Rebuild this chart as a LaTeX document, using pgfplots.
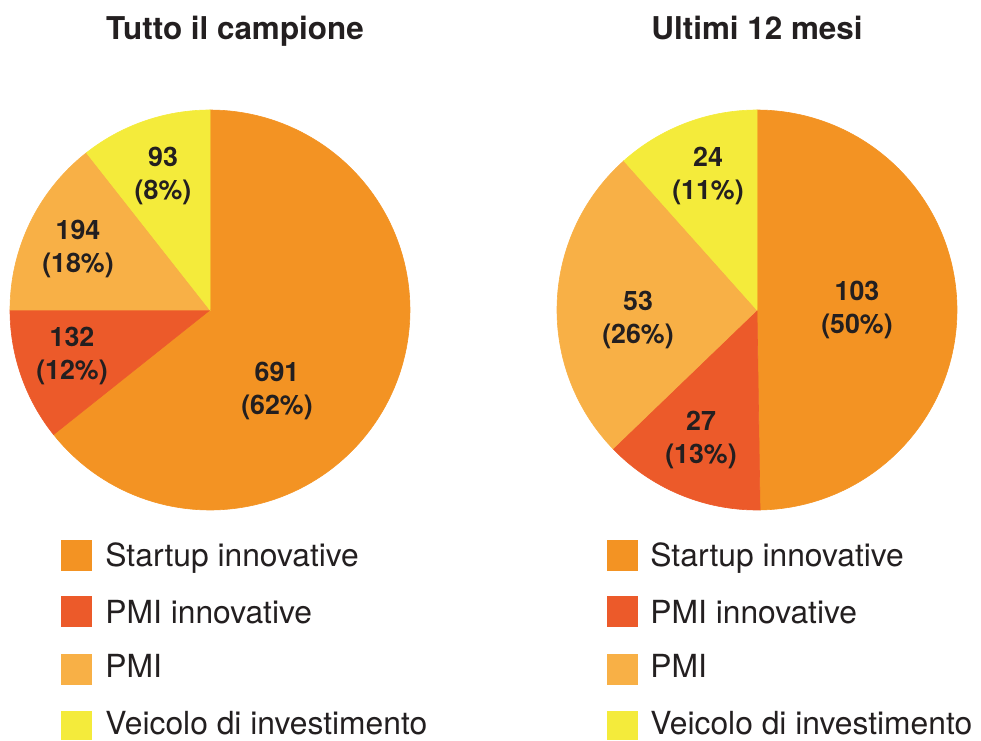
\documentclass[border=0pt]{standalone}
\usepackage{pgfplots}
\pgfplotsset{compat=1.18}
\usepackage{fontspec}
\setmainfont{TeX Gyre Heros}
\definecolor{cStart}{HTML}{F39323}
\definecolor{cPMIinn}{HTML}{EC5A2A}
\definecolor{cPMI}{HTML}{F8B046}
\definecolor{cVeic}{HTML}{F4EB3B}
\definecolor{txt}{HTML}{231F20}
% left pie: shares (%) as drawn in the reference picture
\def\La{64.3}\def\Lb{10.7}\def\Lc{14.4}\def\Ld{10.6}
% right pie: counts
\def\Ra{103}\def\Rb{27}\def\Rc{53}\def\Rd{24}
\pgfmathsetmacro\Ltot{\La+\Lb+\Lc+\Ld}
\pgfmathsetmacro\Rtot{\Ra+\Rb+\Rc+\Rd}
\pgfmathsetmacro\LAa{90-360*(\La/\Ltot)}
\pgfmathsetmacro\LAb{90-360*((\La+\Lb)/\Ltot)}
\pgfmathsetmacro\LAc{90-360*((\La+\Lb+\Lc)/\Ltot)}
\pgfmathsetmacro\RAa{90-360*(\Ra/\Rtot)}
\pgfmathsetmacro\RAb{90-360*((\Ra+\Rb)/\Rtot)}
\pgfmathsetmacro\RAc{90-360*((\Ra+\Rb+\Rc)/\Rtot)}
\newcommand\slice[5]{%
  \addplot[fill=#1, draw=#1, line width=0.3pt, domain=#4:#5, samples=120, variable=\t]
    ({#2+200*cos(\t)},{#3+200*sin(\t)}) -- (axis cs:#2,#3) -- cycle;}
\newcommand\lab[3]{\node[anchor=center, align=center, text=txt, inner sep=0pt,
  font=\fontsize{13.4}{16.5}\selectfont\bfseries] at (axis cs:#1,#2) {#3};}
\newcommand\legtext[3]{\node[anchor=base west, text=txt, inner sep=0pt,
  font=\fontsize{15.9}{18}\selectfont] at (axis cs:#1,#2) {#3};}
\begin{document}
\begin{tikzpicture}
\begin{axis}[
  width=490.5pt, height=370pt, scale only axis,
  xmin=0, xmax=981, ymin=-740, ymax=0,
  hide axis, clip=false,
]
% left pie
\slice{cStart}{210}{-310}{\LAa}{90}
\slice{cPMIinn}{210}{-310}{\LAb}{\LAa}
\slice{cPMI}{210}{-310}{\LAc}{\LAb}
\slice{cVeic}{210}{-310}{-270}{\LAc}
% right pie
\slice{cStart}{757}{-310}{\RAa}{90}
\slice{cPMIinn}{757}{-310}{\RAb}{\RAa}
\slice{cPMI}{757}{-310}{\RAc}{\RAb}
\slice{cVeic}{757}{-310}{-270}{\RAc}
% legend squares
\addplot[fill=cStart, draw=none] coordinates {(61,-540) (92,-540) (92,-571) (61,-571)} -- cycle;
\addplot[fill=cPMIinn, draw=none] coordinates {(61,-596) (92,-596) (92,-627) (61,-627)} -- cycle;
\addplot[fill=cPMI, draw=none] coordinates {(61,-654) (92,-654) (92,-685) (61,-685)} -- cycle;
\addplot[fill=cVeic, draw=none] coordinates {(61,-711) (92,-711) (92,-740) (61,-740)} -- cycle;
\addplot[fill=cStart, draw=none] coordinates {(607,-540) (638,-540) (638,-571) (607,-571)} -- cycle;
\addplot[fill=cPMIinn, draw=none] coordinates {(607,-596) (638,-596) (638,-627) (607,-627)} -- cycle;
\addplot[fill=cPMI, draw=none] coordinates {(607,-654) (638,-654) (638,-685) (607,-685)} -- cycle;
\addplot[fill=cVeic, draw=none] coordinates {(607,-711) (638,-711) (638,-740) (607,-740)} -- cycle;
% slice labels
\lab{277}{-391}{691\\(62\%)}
\lab{72}{-356}{132\\(12\%)}
\lab{78}{-249}{194\\(18\%)}
\lab{163}{-176}{93\\(8\%)}
\lab{857}{-310}{103\\(50\%)}
\lab{701}{-440}{27\\(13\%)}
\lab{638}{-320}{53\\(26\%)}
\lab{708}{-176}{24\\(11\%)}
% titles
\node[anchor=base, text=txt, inner sep=0pt, font=\fontsize{15.7}{18}\selectfont\bfseries] at (axis cs:235,-40) {Tutto il campione};
\node[anchor=base, text=txt, inner sep=0pt, font=\fontsize{15.7}{18}\selectfont\bfseries] at (axis cs:757,-40) {Ultimi 12 mesi};
% legend texts
\legtext{105}{-567}{Startup innovative}
\legtext{105}{-623}{PMI innovative}
\legtext{105}{-678}{PMI}
\legtext{105}{-734}{Veicolo di investimento}
\legtext{650}{-567}{Startup innovative}
\legtext{650}{-623}{PMI innovative}
\legtext{650}{-678}{PMI}
\legtext{650}{-734}{Veicolo di investimento}
\end{axis}
\pgfresetboundingbox
\useasboundingbox (current axis.south west) rectangle (current axis.north east);
\end{tikzpicture}
\end{document}
